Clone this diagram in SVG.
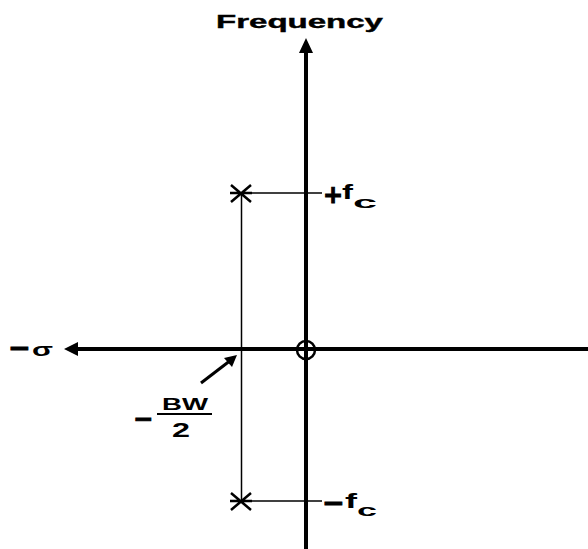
<svg xmlns="http://www.w3.org/2000/svg" width="588" height="549" viewBox="0 0 588 549">
<style>
text{font-family:"Liberation Sans",Arial,sans-serif;font-weight:bold;fill:#000}
.sym{font-family:"DejaVu Sans",sans-serif;font-size:27px;stroke:#000;stroke-width:1}
.axis{stroke:#000;stroke-width:4;fill:none}
.thin{stroke:#000;stroke-width:1.5;fill:none}
.star{stroke:#000;stroke-width:2.5;fill:none}
</style>
<rect width="588" height="549" fill="#fff"/>
<g id="connectors">
<line class="axis" x1="306" y1="549" x2="306" y2="52"/>
<path d="M299,53 L306,38 L313,53 z" fill="#000"/>
<line class="axis" x1="588" y1="349" x2="77" y2="349"/>
<path d="M78,342 L64,349 L78,356 z" fill="#000"/>
<line class="thin" x1="241.5" y1="193" x2="241.5" y2="501"/>
<line class="thin" x1="241" y1="193" x2="322" y2="193"/>
<line class="thin" x1="241" y1="501" x2="322" y2="501"/>
<line x1="201" y1="383" x2="231" y2="360" stroke="#000" stroke-width="3"/>
<path d="M237,355 L224,358 L232,367 z" fill="#000"/>
</g>
<g id="origin">
<circle cx="306" cy="350" r="9" fill="none" stroke="#000" stroke-width="2.5"/>
</g>
<g id="pole-top">
<path class="star" d="M231,185 L251,202 M231,202 L251,185 M230,193 L252,193"/>
</g>
<g id="pole-bottom">
<path class="star" d="M231,493 L251,510 M231,510 L251,493 M230,501 L252,501"/>
</g>
<g id="label-frequency">
<text x="216" y="28" font-size="19" textLength="167" lengthAdjust="spacingAndGlyphs" stroke="#000" stroke-width="0.4">Frequency</text>
</g>
<g id="label-fc-pos">
<text class="sym" x="323" y="203" style="font-size:24px">+</text>
<text x="342" y="199" font-size="20" textLength="11" lengthAdjust="spacingAndGlyphs">f</text>
<text x="353" y="208" font-size="17" textLength="24" lengthAdjust="spacingAndGlyphs">c</text>
</g>
<g id="label-fc-neg">
<text class="sym" x="322" y="512">−</text>
<text x="345" y="508" font-size="20" textLength="12" lengthAdjust="spacingAndGlyphs">f</text>
<text x="357" y="516" font-size="17" textLength="20" lengthAdjust="spacingAndGlyphs">c</text>
</g>
<g id="label-sigma">
<text class="sym" x="8" y="357">−</text>
<text x="32" y="356" font-size="19" textLength="21" lengthAdjust="spacingAndGlyphs">σ</text>
</g>
<g id="label-bw">
<text class="sym" x="133" y="427" style="font-size:24px">−</text>
<text x="162" y="410" font-size="17" textLength="46" lengthAdjust="spacingAndGlyphs">BW</text>
<line x1="157" y1="414" x2="212" y2="414" stroke="#000" stroke-width="2"/>
<text x="172" y="437" font-size="20" textLength="18" lengthAdjust="spacingAndGlyphs">2</text>
</g>
</svg>
